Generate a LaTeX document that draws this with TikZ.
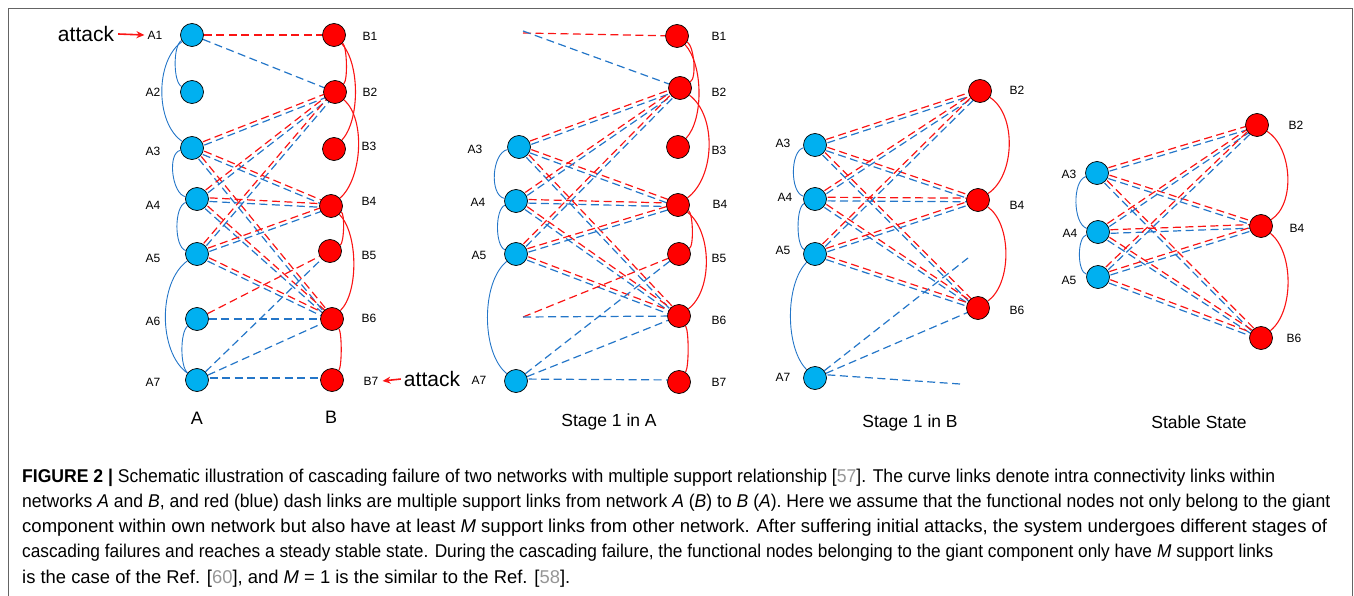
\documentclass[tikz,border=0pt]{standalone}
\usepackage{fontspec}
\setmainfont{Liberation Sans}
\newfontfamily\capfont{Liberation Sans}
\usepackage{graphicx}
\usetikzlibrary{calc,arrows.meta}
\pgfdeclarelayer{bg}
\pgfsetlayers{bg,main}
\definecolor{fillA}{RGB}{0,176,240}
\definecolor{fillB}{RGB}{255,0,0}
\definecolor{lineB}{RGB}{36,118,200}
\definecolor{lineR}{RGB}{250,20,20}
\definecolor{refgray}{RGB}{150,150,150}
\definecolor{framegray}{RGB}{100,100,100}
\tikzset{
 nA/.style={circle,draw=black,line width=0.7pt,fill=fillA,minimum size=23pt,inner sep=0pt},
 nB/.style={nA,fill=fillB},
 rd/.style={draw=lineR,line width=1.2pt,dash pattern=on 8pt off 4.5pt},
 bd/.style={rd,draw=lineB},
 ia/.style={draw=lineB,line width=0.9pt},
 ib/.style={draw=lineR,line width=1.1pt},
 lab/.style={font=\fontsize{12}{14}\selectfont,inner sep=0pt},
 ttl/.style={font=\fontsize{17.5}{20}\selectfont,inner sep=0pt},
 atk/.style={font=\fontsize{21}{24}\selectfont,inner sep=0pt},
 atkarrow/.style={draw=lineR,line width=1.6pt,-{Stealth[length=8pt,width=7pt]}},
 capnode/.style={anchor=base west,inner sep=0pt},
}
\newcommand\arcl[4]{\draw[ia] (#1) .. controls +(-#3,#4) and +(-#3,-#4) .. (#2);}
\newcommand\arcr[4]{\draw[ib] (#1) .. controls +(#3,#4) and +(#3,-#4) .. (#2);}
\newcommand\pair[2]{%
 \draw[rd] ($(#1)!1.8pt!90:(#2)$) -- ($(#2)!1.8pt!-90:(#1)$);
 \draw[bd] ($(#1)!1.8pt!-90:(#2)$) -- ($(#2)!1.8pt!90:(#1)$);}
\newcommand\allpairs[1]{%
 \pair{#1a3}{#1b2}\pair{#1a3}{#1b4}\pair{#1a3}{#1b6}%
 \pair{#1a4}{#1b2}\pair{#1a4}{#1b4}\pair{#1a4}{#1b6}%
 \pair{#1a5}{#1b2}\pair{#1a5}{#1b4}\pair{#1a5}{#1b6}}
\newcommand\capline[4]{%
 \node[capnode] (#1) at (22,#2) {\resizebox{#3pt}{\height}{\capfont\fontsize{18.5}{22}\selectfont #4}};}
\begin{document}
\begin{tikzpicture}[x=1pt,y=-1pt]
\useasboundingbox (0,0) rectangle (1354,596);
\draw[framegray,line width=0.9pt] (8.5,600) -- (8.5,8.5) -- (1352,8.5) -- (1352,600);
% ---------- Panel 1 ----------
\node[nA] (p1a1) at (192,35) {};
\node[nA] (p1a2) at (192,92) {};
\node[nA] (p1a3) at (192,148) {};
\node[nA] (p1a4) at (197,199) {};
\node[nA] (p1a5) at (197,254) {};
\node[nA] (p1a6) at (197,319) {};
\node[nA] (p1a7) at (197,380) {};
\node[nB] (p1b1) at (334,35) {};
\node[nB] (p1b2) at (335,92) {};
\node[nB] (p1b3) at (334,149) {};
\node[nB] (p1b4) at (331,206) {};
\node[nB] (p1b5) at (330,251) {};
\node[nB] (p1b6) at (332,319) {};
\node[nB] (p1b7) at (332,380) {};
\node[lab] (p1la1) at (155,35) {A1};
\node[lab] (p1la2) at (153,92) {A2};
\node[lab] (p1la3) at (153,151) {A3};
\node[lab] (p1la4) at (153,205) {A4};
\node[lab] (p1la5) at (153,258) {A5};
\node[lab] (p1la6) at (153,321) {A6};
\node[lab] (p1la7) at (153,382) {A7};
\node[lab] (p1lb1) at (370,36) {B1};
\node[lab] (p1lb2) at (370,92) {B2};
\node[lab] (p1lb3) at (369,146) {B3};
\node[lab] (p1lb4) at (369,201) {B4};
\node[lab] (p1lb5) at (369,255) {B5};
\node[lab] (p1lb6) at (369,318) {B6};
\node[lab] (p1lb7) at (371,381) {B7};
\node[ttl,font=\fontsize{18}{20}\selectfont] (p1tA) at (197,418) {A};
\node[ttl,font=\fontsize{18}{20}\selectfont] (p1tB) at (331,417) {B};
\node[atk] (atk1) at (86,34) {attack};
\node[atk] (atk2) at (432,379) {attack};
\draw[atkarrow] ([xshift=4pt]atk1.east) -- ([xshift=-3pt]p1la1.west);
\draw[atkarrow] ([xshift=-3pt]atk2.west) -- ([xshift=4pt]p1lb7.east);
% ---------- Panel 2 ----------
\node[nA] (p2a3) at (519,147) {};
\node[nA] (p2a4) at (516,201) {};
\node[nA] (p2a5) at (516,254) {};
\node[nA] (p2a7) at (516,381) {};
\node[nB] (p2b1) at (677,36) {};
\node[nB] (p2b2) at (680,88) {};
\node[nB] (p2b3) at (678,147) {};
\node[nB] (p2b4) at (678,205) {};
\node[nB] (p2b5) at (679,254) {};
\node[nB] (p2b6) at (679,316) {};
\node[nB] (p2b7) at (679,382) {};
\coordinate (p2x1) at (523,33);
\coordinate (p2x6) at (523,317);
\node[lab] (p2la3) at (475,149) {A3};
\node[lab] (p2la4) at (478,202) {A4};
\node[lab] (p2la5) at (479,255) {A5};
\node[lab] (p2la7) at (479,380) {A7};
\node[lab] (p2lb1) at (719,36) {B1};
\node[lab] (p2lb2) at (719,92) {B2};
\node[lab] (p2lb3) at (719,150) {B3};
\node[lab] (p2lb4) at (720,204) {B4};
\node[lab] (p2lb5) at (719,258) {B5};
\node[lab] (p2lb6) at (719,320) {B6};
\node[lab] (p2lb7) at (719,382) {B7};
\node[ttl] (p2t) at (609,422) {Stage 1 in A};
% ---------- Panel 3 ----------
\node[nA] (p3a3) at (815,145) {};
\node[nA] (p3a4) at (815,199) {};
\node[nA] (p3a5) at (815,254) {};
\node[nA] (p3a7) at (815,378) {};
\node[nB] (p3b2) at (980,91) {};
\node[nB] (p3b4) at (978,200) {};
\node[nB] (p3b6) at (978,308) {};
\coordinate (p3x5) at (968,258);
\coordinate (p3x7) at (960,384);
\node[lab] (p3la3) at (783,143) {A3};
\node[lab] (p3la4) at (785,197) {A4};
\node[lab] (p3la5) at (783,250) {A5};
\node[lab] (p3la7) at (783,377) {A7};
\node[lab] (p3lb2) at (1017,90) {B2};
\node[lab] (p3lb4) at (1017,205) {B4};
\node[lab] (p3lb6) at (1017,310) {B6};
\node[ttl] (p3t) at (910,423) {Stage 1 in B};
% ---------- Panel 4 ----------
\node[nA] (p4a3) at (1097,173) {};
\node[nA] (p4a4) at (1098,232) {};
\node[nA] (p4a5) at (1098,277) {};
\node[nB] (p4b2) at (1257,125) {};
\node[nB] (p4b4) at (1261,226) {};
\node[nB] (p4b6) at (1261,338) {};
\node[lab] (p4la3) at (1069,174) {A3};
\node[lab] (p4la4) at (1070,233) {A4};
\node[lab] (p4la5) at (1069,280) {A5};
\node[lab] (p4lb2) at (1296,125) {B2};
\node[lab] (p4lb4) at (1297,228) {B4};
\node[lab] (p4lb6) at (1294,338) {B6};
\node[ttl] (p4t) at (1199,422) {Stable State};
% ---------- connectors ----------
\begin{pgfonlayer}{bg}
% panel 1
\draw[rd] (p1a1) -- (p1b1);
\draw[bd] (p1a1) -- (p1b2);
\allpairs{p1}
\draw[rd] (p1a6) -- (p1b5);
\draw[bd] (p1a6) -- (p1b6);
\draw[bd] (p1a7) -- (p1b5);
\draw[bd] (p1a7) -- (p1b6);
\draw[bd] ([yshift=2pt]p1a7.center) -- ([yshift=2pt]p1b7.center);
\arcl{p1a1}{p1a2}{19}{10}
\arcl{p1a1}{p1a3}{37}{25}
\arcl{p1a3}{p1a4}{25}{5}
\arcl{p1a4}{p1a5}{23}{7}
\arcl{p1a5}{p1a7}{39}{28}
\arcl{p1a6}{p1a7}{17}{13}
\arcr{p1b1}{p1b2}{13}{12}
\arcr{p1b1}{p1b3}{26}{29}
\arcr{p1b2}{p1b4}{31}{27}
\arcr{p1b4}{p1b5}{14}{8}
\arcr{p1b4}{p1b6}{27}{27}
\arcr{p1b6}{p1b7}{10}{14}
% panel 2
\draw[rd] (p2x1) -- (p2b1);
\draw[bd] ([yshift=2pt]p2x1) -- (p2b2);
\allpairs{p2}
\draw[rd] (p2x6) -- (p2b5);
\draw[bd] (p2x6) -- (p2b6);
\draw[bd] (p2a7) -- (p2b5);
\draw[bd] (p2a7) -- (p2b6);
\draw[bd] ([yshift=2pt]p2a7.center) -- ([yshift=2pt]p2b7.center);
\arcl{p2a3}{p2a4}{27}{6}
\arcl{p2a4}{p2a5}{21}{8}
\arcl{p2a5}{p2a7}{35}{28}
\arcr{p2b1}{p2b2}{17}{10}
\arcr{p2b1}{p2b3}{26}{28}
\arcr{p2b2}{p2b4}{37}{28}
\arcr{p2b4}{p2b5}{15}{8}
\arcr{p2b4}{p2b6}{34}{26}
\arcr{p2b6}{p2b7}{10}{15}
% panel 3
\allpairs{p3}
\draw[bd] (p3a7) -- (p3b6);
\draw[bd] (p3a7) -- (p3x5);
\draw[bd] ([yshift=4pt]p3a7.center) -- (p3x7);
\arcl{p3a3}{p3a4}{25}{6}
\arcl{p3a4}{p3a5}{19}{8}
\arcl{p3a5}{p3a7}{30}{30}
\arcr{p3b2}{p3b4}{37}{24}
\arcr{p3b4}{p3b6}{34}{24}
% panel 4
\allpairs{p4}
\arcl{p4a3}{p4a4}{25}{8}
\arcl{p4a4}{p4a5}{21}{5}
\arcr{p4b2}{p4b4}{35}{22}
\arcr{p4b4}{p4b6}{33}{26}
\end{pgfonlayer}
% ---------- caption ----------
\capline{cap1}{482}{1253}{\textbf{FIGURE 2 |} Schematic illustration of cascading failure of two networks with multiple support relationship [\textcolor{refgray}{57}]. The curve links denote intra connectivity links within}
\capline{cap2}{507}{1308}{networks \textit{A} and \textit{B}, and red (blue) dash links are multiple support links from network \textit{A} (\textit{B}) to \textit{B} (\textit{A}). Here we assume that the functional nodes not only belong to the giant}
\capline{cap3}{532}{1305}{component within own network but also have at least \textit{M} support links from other network. After suffering initial attacks, the system undergoes different stages of}
\capline{cap4}{557}{1251}{cascading failures and reaches a steady stable state. During the cascading failure, the functional nodes belonging to the giant component only have \textit{M} support links}
\capline{cap5}{583}{548}{is the case of the Ref. [\textcolor{refgray}{60}], and \textit{M} = 1 is the similar to the Ref. [\textcolor{refgray}{58}].}
\end{tikzpicture}
\end{document}
